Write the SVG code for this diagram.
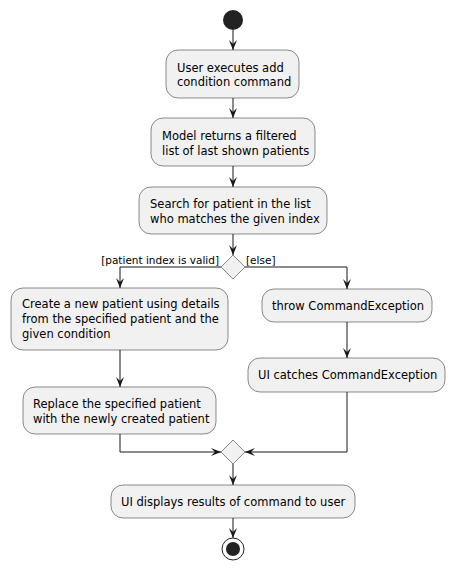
<svg xmlns="http://www.w3.org/2000/svg" width="455" height="570" viewBox="0 0 455 570">
<style>
.box{fill:#F1F1F1;stroke:#181818;stroke-width:0.5}
.t{font-family:"DejaVu Sans",sans-serif;font-size:11.5px;fill:#000}
.l{font-family:"DejaVu Sans",sans-serif;font-size:10.5px;fill:#000}
.c{fill:none;stroke:#181818;stroke-width:1}
.ah{fill:#181818}
.dia{fill:#F1F1F1;stroke:#181818;stroke-width:0.5}
</style>
<defs>
<polygon id="ad" points="-4,-10 0,0 4,-10 0,-6"/>
</defs>
<rect width="455" height="570" fill="#FFFFFF"/>
<g id="start"><circle cx="233" cy="20" r="10" fill="#222222"/></g>
<g id="n1"><rect class="box" x="166" y="50" width="133" height="48" rx="12"/>
<text class="t" x="177" y="72">User executes add</text><text class="t" x="177" y="86">condition command</text></g>
<g id="n2"><rect class="box" x="151" y="118" width="164" height="48" rx="12"/>
<text class="t" x="162" y="140">Model returns a filtered</text><text class="t" x="162" y="155">list of last shown patients</text></g>
<g id="n3"><rect class="box" x="139" y="187" width="188" height="47" rx="12"/>
<text class="t" x="150" y="208">Search for patient in the list</text><text class="t" x="150" y="223">who matches the given index</text></g>
<g id="d1"><polygon class="dia" points="233,255 245,267 233,279 221,267"/></g>
<g id="n4"><rect class="box" x="11" y="288" width="217" height="62" rx="12"/>
<text class="t" x="22" y="308">Create a new patient using details</text><text class="t" x="22" y="323">from the specified patient and the</text><text class="t" x="22" y="338">given condition</text></g>
<g id="n5"><rect class="box" x="262" y="289" width="170" height="33" rx="12"/>
<text class="t" x="272" y="310">throw CommandException</text></g>
<g id="n6"><rect class="box" x="248" y="358" width="197" height="34" rx="12"/>
<text class="t" x="258" y="379">UI catches CommandException</text></g>
<g id="n7"><rect class="box" x="23" y="387" width="193" height="47" rx="12"/>
<text class="t" x="33" y="408">Replace the specified patient</text><text class="t" x="33" y="423">with the newly created patient</text></g>
<g id="d2"><polygon class="dia" points="233,440 245,452 233,464 221,452"/></g>
<g id="n8"><rect class="box" x="111" y="485" width="244" height="33" rx="12"/>
<text class="t" x="121" y="506">UI displays results of command to user</text></g>
<g id="end"><circle cx="233" cy="549" r="11" fill="none" stroke="#222222" stroke-width="1"/><circle cx="233" cy="549" r="7" fill="#222222"/></g>
<g id="connectors">
<path class="c" d="M233,30 V50"/><use href="#ad" class="ah" x="233" y="50"/>
<path class="c" d="M233,98 V118"/><use href="#ad" class="ah" x="233" y="118"/>
<path class="c" d="M233,166 V187"/><use href="#ad" class="ah" x="233" y="187"/>
<path class="c" d="M233,234 V255"/><use href="#ad" class="ah" x="233" y="255"/>
<path class="c" d="M221,267 H120 V288"/><use href="#ad" class="ah" x="120" y="288"/>
<path class="c" d="M245,267 H347 V289"/><use href="#ad" class="ah" x="347" y="289"/>
<text class="l" x="219" y="264" text-anchor="end">[patient index is valid]</text>
<text class="l" x="246" y="264">[else]</text>
<path class="c" d="M120,350 V387"/><use href="#ad" class="ah" x="120" y="387"/>
<path class="c" d="M347,322 V358"/><use href="#ad" class="ah" x="347" y="358"/>
<path class="c" d="M120,434 V452 H221"/><use href="#ad" class="ah" transform="translate(221,452) rotate(-90)"/>
<path class="c" d="M347,392 V452 H245"/><use href="#ad" class="ah" transform="translate(245,452) rotate(90)"/>
<path class="c" d="M233,464 V485"/><use href="#ad" class="ah" x="233" y="485"/>
<path class="c" d="M233,518 V538"/><use href="#ad" class="ah" x="233" y="538"/>
</g>
</svg>
